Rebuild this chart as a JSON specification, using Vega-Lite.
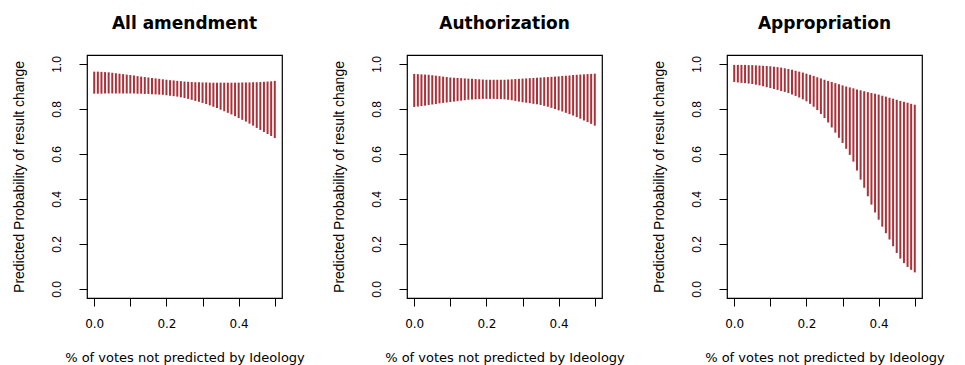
{
  "$schema": "https://vega.github.io/schema/vega-lite/v6.json",
  "background": "white",
  "padding": {"left": 11, "top": 14, "right": 5, "bottom": 2},
  "datasets": {
    "band": [
      {"type": "All amendment", "x": 0.00, "lo": 0.868, "hi": 0.966},
      {"type": "All amendment", "x": 0.01, "lo": 0.868, "hi": 0.966},
      {"type": "All amendment", "x": 0.02, "lo": 0.868, "hi": 0.965},
      {"type": "All amendment", "x": 0.03, "lo": 0.869, "hi": 0.964},
      {"type": "All amendment", "x": 0.04, "lo": 0.869, "hi": 0.963},
      {"type": "All amendment", "x": 0.05, "lo": 0.869, "hi": 0.961},
      {"type": "All amendment", "x": 0.06, "lo": 0.869, "hi": 0.959},
      {"type": "All amendment", "x": 0.07, "lo": 0.869, "hi": 0.957},
      {"type": "All amendment", "x": 0.08, "lo": 0.869, "hi": 0.955},
      {"type": "All amendment", "x": 0.09, "lo": 0.869, "hi": 0.953},
      {"type": "All amendment", "x": 0.10, "lo": 0.869, "hi": 0.951},
      {"type": "All amendment", "x": 0.11, "lo": 0.869, "hi": 0.949},
      {"type": "All amendment", "x": 0.12, "lo": 0.868, "hi": 0.946},
      {"type": "All amendment", "x": 0.13, "lo": 0.868, "hi": 0.944},
      {"type": "All amendment", "x": 0.14, "lo": 0.867, "hi": 0.942},
      {"type": "All amendment", "x": 0.15, "lo": 0.867, "hi": 0.940},
      {"type": "All amendment", "x": 0.16, "lo": 0.866, "hi": 0.938},
      {"type": "All amendment", "x": 0.17, "lo": 0.865, "hi": 0.936},
      {"type": "All amendment", "x": 0.18, "lo": 0.864, "hi": 0.934},
      {"type": "All amendment", "x": 0.19, "lo": 0.863, "hi": 0.932},
      {"type": "All amendment", "x": 0.20, "lo": 0.861, "hi": 0.930},
      {"type": "All amendment", "x": 0.21, "lo": 0.859, "hi": 0.928},
      {"type": "All amendment", "x": 0.22, "lo": 0.857, "hi": 0.927},
      {"type": "All amendment", "x": 0.23, "lo": 0.855, "hi": 0.925},
      {"type": "All amendment", "x": 0.24, "lo": 0.852, "hi": 0.924},
      {"type": "All amendment", "x": 0.25, "lo": 0.849, "hi": 0.922},
      {"type": "All amendment", "x": 0.26, "lo": 0.845, "hi": 0.921},
      {"type": "All amendment", "x": 0.27, "lo": 0.841, "hi": 0.920},
      {"type": "All amendment", "x": 0.28, "lo": 0.836, "hi": 0.919},
      {"type": "All amendment", "x": 0.29, "lo": 0.832, "hi": 0.919},
      {"type": "All amendment", "x": 0.30, "lo": 0.827, "hi": 0.918},
      {"type": "All amendment", "x": 0.31, "lo": 0.822, "hi": 0.918},
      {"type": "All amendment", "x": 0.32, "lo": 0.816, "hi": 0.917},
      {"type": "All amendment", "x": 0.33, "lo": 0.810, "hi": 0.917},
      {"type": "All amendment", "x": 0.34, "lo": 0.804, "hi": 0.917},
      {"type": "All amendment", "x": 0.35, "lo": 0.797, "hi": 0.917},
      {"type": "All amendment", "x": 0.36, "lo": 0.790, "hi": 0.917},
      {"type": "All amendment", "x": 0.37, "lo": 0.783, "hi": 0.917},
      {"type": "All amendment", "x": 0.38, "lo": 0.776, "hi": 0.917},
      {"type": "All amendment", "x": 0.39, "lo": 0.768, "hi": 0.917},
      {"type": "All amendment", "x": 0.40, "lo": 0.760, "hi": 0.917},
      {"type": "All amendment", "x": 0.41, "lo": 0.752, "hi": 0.918},
      {"type": "All amendment", "x": 0.42, "lo": 0.744, "hi": 0.918},
      {"type": "All amendment", "x": 0.43, "lo": 0.735, "hi": 0.918},
      {"type": "All amendment", "x": 0.44, "lo": 0.726, "hi": 0.919},
      {"type": "All amendment", "x": 0.45, "lo": 0.716, "hi": 0.919},
      {"type": "All amendment", "x": 0.46, "lo": 0.707, "hi": 0.920},
      {"type": "All amendment", "x": 0.47, "lo": 0.698, "hi": 0.921},
      {"type": "All amendment", "x": 0.48, "lo": 0.689, "hi": 0.922},
      {"type": "All amendment", "x": 0.49, "lo": 0.680, "hi": 0.923},
      {"type": "All amendment", "x": 0.50, "lo": 0.671, "hi": 0.925},

      {"type": "Authorization", "x": 0.00, "lo": 0.809, "hi": 0.956},
      {"type": "Authorization", "x": 0.01, "lo": 0.811, "hi": 0.955},
      {"type": "Authorization", "x": 0.02, "lo": 0.813, "hi": 0.954},
      {"type": "Authorization", "x": 0.03, "lo": 0.815, "hi": 0.953},
      {"type": "Authorization", "x": 0.04, "lo": 0.818, "hi": 0.952},
      {"type": "Authorization", "x": 0.05, "lo": 0.820, "hi": 0.950},
      {"type": "Authorization", "x": 0.06, "lo": 0.822, "hi": 0.948},
      {"type": "Authorization", "x": 0.07, "lo": 0.825, "hi": 0.946},
      {"type": "Authorization", "x": 0.08, "lo": 0.827, "hi": 0.944},
      {"type": "Authorization", "x": 0.09, "lo": 0.829, "hi": 0.942},
      {"type": "Authorization", "x": 0.10, "lo": 0.831, "hi": 0.940},
      {"type": "Authorization", "x": 0.11, "lo": 0.833, "hi": 0.939},
      {"type": "Authorization", "x": 0.12, "lo": 0.835, "hi": 0.938},
      {"type": "Authorization", "x": 0.13, "lo": 0.837, "hi": 0.937},
      {"type": "Authorization", "x": 0.14, "lo": 0.839, "hi": 0.936},
      {"type": "Authorization", "x": 0.15, "lo": 0.841, "hi": 0.935},
      {"type": "Authorization", "x": 0.16, "lo": 0.842, "hi": 0.934},
      {"type": "Authorization", "x": 0.17, "lo": 0.843, "hi": 0.933},
      {"type": "Authorization", "x": 0.18, "lo": 0.844, "hi": 0.932},
      {"type": "Authorization", "x": 0.19, "lo": 0.845, "hi": 0.931},
      {"type": "Authorization", "x": 0.20, "lo": 0.845, "hi": 0.930},
      {"type": "Authorization", "x": 0.21, "lo": 0.845, "hi": 0.930},
      {"type": "Authorization", "x": 0.22, "lo": 0.845, "hi": 0.930},
      {"type": "Authorization", "x": 0.23, "lo": 0.844, "hi": 0.930},
      {"type": "Authorization", "x": 0.24, "lo": 0.844, "hi": 0.930},
      {"type": "Authorization", "x": 0.25, "lo": 0.843, "hi": 0.930},
      {"type": "Authorization", "x": 0.26, "lo": 0.841, "hi": 0.931},
      {"type": "Authorization", "x": 0.27, "lo": 0.839, "hi": 0.932},
      {"type": "Authorization", "x": 0.28, "lo": 0.836, "hi": 0.933},
      {"type": "Authorization", "x": 0.29, "lo": 0.833, "hi": 0.934},
      {"type": "Authorization", "x": 0.30, "lo": 0.830, "hi": 0.935},
      {"type": "Authorization", "x": 0.31, "lo": 0.828, "hi": 0.936},
      {"type": "Authorization", "x": 0.32, "lo": 0.826, "hi": 0.937},
      {"type": "Authorization", "x": 0.33, "lo": 0.823, "hi": 0.938},
      {"type": "Authorization", "x": 0.34, "lo": 0.821, "hi": 0.939},
      {"type": "Authorization", "x": 0.35, "lo": 0.818, "hi": 0.940},
      {"type": "Authorization", "x": 0.36, "lo": 0.814, "hi": 0.941},
      {"type": "Authorization", "x": 0.37, "lo": 0.810, "hi": 0.942},
      {"type": "Authorization", "x": 0.38, "lo": 0.805, "hi": 0.943},
      {"type": "Authorization", "x": 0.39, "lo": 0.800, "hi": 0.944},
      {"type": "Authorization", "x": 0.40, "lo": 0.794, "hi": 0.945},
      {"type": "Authorization", "x": 0.41, "lo": 0.789, "hi": 0.947},
      {"type": "Authorization", "x": 0.42, "lo": 0.783, "hi": 0.948},
      {"type": "Authorization", "x": 0.43, "lo": 0.777, "hi": 0.949},
      {"type": "Authorization", "x": 0.44, "lo": 0.771, "hi": 0.951},
      {"type": "Authorization", "x": 0.45, "lo": 0.764, "hi": 0.952},
      {"type": "Authorization", "x": 0.46, "lo": 0.757, "hi": 0.953},
      {"type": "Authorization", "x": 0.47, "lo": 0.749, "hi": 0.954},
      {"type": "Authorization", "x": 0.48, "lo": 0.742, "hi": 0.955},
      {"type": "Authorization", "x": 0.49, "lo": 0.734, "hi": 0.956},
      {"type": "Authorization", "x": 0.50, "lo": 0.726, "hi": 0.957},

      {"type": "Appropriation", "x": 0.00, "lo": 0.920, "hi": 0.996},
      {"type": "Appropriation", "x": 0.01, "lo": 0.918, "hi": 0.996},
      {"type": "Appropriation", "x": 0.02, "lo": 0.916, "hi": 0.996},
      {"type": "Appropriation", "x": 0.03, "lo": 0.915, "hi": 0.996},
      {"type": "Appropriation", "x": 0.04, "lo": 0.913, "hi": 0.995},
      {"type": "Appropriation", "x": 0.05, "lo": 0.911, "hi": 0.995},
      {"type": "Appropriation", "x": 0.06, "lo": 0.908, "hi": 0.994},
      {"type": "Appropriation", "x": 0.07, "lo": 0.905, "hi": 0.993},
      {"type": "Appropriation", "x": 0.08, "lo": 0.901, "hi": 0.992},
      {"type": "Appropriation", "x": 0.09, "lo": 0.897, "hi": 0.991},
      {"type": "Appropriation", "x": 0.10, "lo": 0.893, "hi": 0.990},
      {"type": "Appropriation", "x": 0.11, "lo": 0.889, "hi": 0.988},
      {"type": "Appropriation", "x": 0.12, "lo": 0.885, "hi": 0.986},
      {"type": "Appropriation", "x": 0.13, "lo": 0.880, "hi": 0.984},
      {"type": "Appropriation", "x": 0.14, "lo": 0.876, "hi": 0.981},
      {"type": "Appropriation", "x": 0.15, "lo": 0.871, "hi": 0.978},
      {"type": "Appropriation", "x": 0.16, "lo": 0.865, "hi": 0.974},
      {"type": "Appropriation", "x": 0.17, "lo": 0.858, "hi": 0.970},
      {"type": "Appropriation", "x": 0.18, "lo": 0.851, "hi": 0.966},
      {"type": "Appropriation", "x": 0.19, "lo": 0.843, "hi": 0.962},
      {"type": "Appropriation", "x": 0.20, "lo": 0.834, "hi": 0.957},
      {"type": "Appropriation", "x": 0.21, "lo": 0.823, "hi": 0.952},
      {"type": "Appropriation", "x": 0.22, "lo": 0.810, "hi": 0.947},
      {"type": "Appropriation", "x": 0.23, "lo": 0.795, "hi": 0.941},
      {"type": "Appropriation", "x": 0.24, "lo": 0.778, "hi": 0.936},
      {"type": "Appropriation", "x": 0.25, "lo": 0.760, "hi": 0.930},
      {"type": "Appropriation", "x": 0.26, "lo": 0.740, "hi": 0.925},
      {"type": "Appropriation", "x": 0.27, "lo": 0.718, "hi": 0.920},
      {"type": "Appropriation", "x": 0.28, "lo": 0.695, "hi": 0.915},
      {"type": "Appropriation", "x": 0.29, "lo": 0.672, "hi": 0.910},
      {"type": "Appropriation", "x": 0.30, "lo": 0.649, "hi": 0.905},
      {"type": "Appropriation", "x": 0.31, "lo": 0.623, "hi": 0.900},
      {"type": "Appropriation", "x": 0.32, "lo": 0.596, "hi": 0.896},
      {"type": "Appropriation", "x": 0.33, "lo": 0.566, "hi": 0.892},
      {"type": "Appropriation", "x": 0.34, "lo": 0.527, "hi": 0.887},
      {"type": "Appropriation", "x": 0.35, "lo": 0.486, "hi": 0.883},
      {"type": "Appropriation", "x": 0.36, "lo": 0.450, "hi": 0.879},
      {"type": "Appropriation", "x": 0.37, "lo": 0.412, "hi": 0.875},
      {"type": "Appropriation", "x": 0.38, "lo": 0.375, "hi": 0.871},
      {"type": "Appropriation", "x": 0.39, "lo": 0.340, "hi": 0.868},
      {"type": "Appropriation", "x": 0.40, "lo": 0.308, "hi": 0.864},
      {"type": "Appropriation", "x": 0.41, "lo": 0.277, "hi": 0.859},
      {"type": "Appropriation", "x": 0.42, "lo": 0.248, "hi": 0.855},
      {"type": "Appropriation", "x": 0.43, "lo": 0.220, "hi": 0.850},
      {"type": "Appropriation", "x": 0.44, "lo": 0.190, "hi": 0.846},
      {"type": "Appropriation", "x": 0.45, "lo": 0.160, "hi": 0.841},
      {"type": "Appropriation", "x": 0.46, "lo": 0.135, "hi": 0.836},
      {"type": "Appropriation", "x": 0.47, "lo": 0.115, "hi": 0.832},
      {"type": "Appropriation", "x": 0.48, "lo": 0.098, "hi": 0.828},
      {"type": "Appropriation", "x": 0.49, "lo": 0.085, "hi": 0.823},
      {"type": "Appropriation", "x": 0.50, "lo": 0.074, "hi": 0.819}
    ]
  },
  "data": {"name": "band"},
  "spacing": 125,
  "bounds": "flush",
  "hconcat": [
    {
      "title": {"text": "All amendment"},
      "width": 195, "height": 243,
      "transform": [{"filter": "datum.type === 'All amendment'"}],
      "mark": {"type": "rule", "color": "#a8323a", "strokeWidth": 2},
      "encoding": {
        "x": {"field": "x", "type": "quantitative", "scale": {"domain": [-0.02, 0.52], "nice": false, "zero": false},
              "axis": {"title": "% of votes not predicted by Ideology", "values": [0, 0.1, 0.2, 0.3, 0.4, 0.5],
                       "labelExpr": "round(datum.value * 10) % 2 == 0 ? format(datum.value, '.1f') : ''"}},
        "y": {"field": "lo", "type": "quantitative", "scale": {"domain": [-0.04, 1.04], "nice": false, "zero": false},
              "axis": {"title": "Predicted Probability of result change", "values": [0, 0.2, 0.4, 0.6, 0.8, 1.0], "format": ".1f"}},
        "y2": {"field": "hi"}
      }
    },
    {
      "title": {"text": "Authorization"},
      "width": 195, "height": 243,
      "transform": [{"filter": "datum.type === 'Authorization'"}],
      "mark": {"type": "rule", "color": "#a8323a", "strokeWidth": 2},
      "encoding": {
        "x": {"field": "x", "type": "quantitative", "scale": {"domain": [-0.02, 0.52], "nice": false, "zero": false},
              "axis": {"title": "% of votes not predicted by Ideology", "values": [0, 0.1, 0.2, 0.3, 0.4, 0.5],
                       "labelExpr": "round(datum.value * 10) % 2 == 0 ? format(datum.value, '.1f') : ''"}},
        "y": {"field": "lo", "type": "quantitative", "scale": {"domain": [-0.04, 1.04], "nice": false, "zero": false},
              "axis": {"title": "Predicted Probability of result change", "values": [0, 0.2, 0.4, 0.6, 0.8, 1.0], "format": ".1f"}},
        "y2": {"field": "hi"}
      }
    },
    {
      "title": {"text": "Appropriation"},
      "width": 195, "height": 243,
      "transform": [{"filter": "datum.type === 'Appropriation'"}],
      "mark": {"type": "rule", "color": "#a8323a", "strokeWidth": 2},
      "encoding": {
        "x": {"field": "x", "type": "quantitative", "scale": {"domain": [-0.02, 0.52], "nice": false, "zero": false},
              "axis": {"title": "% of votes not predicted by Ideology", "values": [0, 0.1, 0.2, 0.3, 0.4, 0.5],
                       "labelExpr": "round(datum.value * 10) % 2 == 0 ? format(datum.value, '.1f') : ''"}},
        "y": {"field": "lo", "type": "quantitative", "scale": {"domain": [-0.04, 1.04], "nice": false, "zero": false},
              "axis": {"title": "Predicted Probability of result change", "values": [0, 0.2, 0.4, 0.6, 0.8, 1.0], "format": ".1f"}},
        "y2": {"field": "hi"}
      }
    }
  ],
  "config": {
    "view": {"stroke": "black", "strokeWidth": 1.2, "fill": "white"},
    "title": {"font": "DejaVu Sans", "fontSize": 17, "fontWeight": "bold", "color": "black", "anchor": "middle", "offset": 22},
    "axis": {
      "domain": false, "grid": false,
      "ticks": true, "tickColor": "black", "tickSize": 8, "tickWidth": 1,
      "labelColor": "black", "titleColor": "black", "titleFontWeight": "normal"
    },
    "axisX": {
      "labelFont": "DejaVu Sans", "labelFontSize": 12, "labelPadding": 12, "labelAngle": 0,
      "titleFont": "DejaVu Sans", "titleFontSize": 13, "titlePadding": 22
    },
    "axisY": {
      "labelFont": "Liberation Sans", "labelFontSize": 12, "labelAngle": 270, "labelPadding": 16,
      "labelAlign": "center", "labelBaseline": "bottom",
      "titleFont": "Liberation Sans", "titleFontSize": 14, "titlePadding": 24
    }
  }
}
